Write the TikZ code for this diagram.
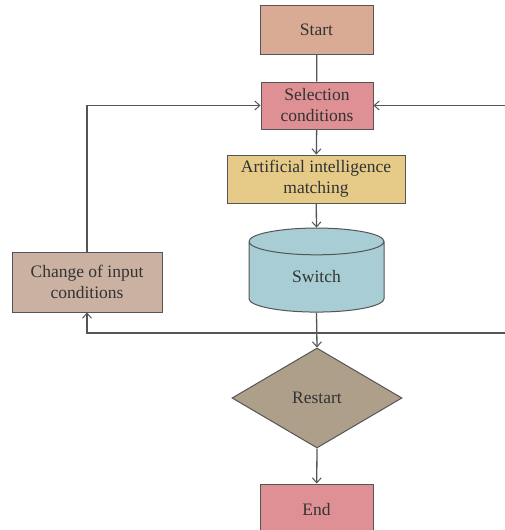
\documentclass[tikz,border=0pt]{standalone}
\usepackage{fontspec}
\setmainfont{Liberation Serif}
\usetikzlibrary{shapes.geometric,arrows.meta}
\definecolor{cstart}{HTML}{D9AB95}
\definecolor{csel}{HTML}{DE9094}
\definecolor{cai}{HTML}{E6CA88}
\definecolor{csw}{HTML}{A8CDD5}
\definecolor{cchg}{HTML}{CBB1A1}
\definecolor{cdia}{HTML}{AE9F8A}
\definecolor{cline}{HTML}{555555}
\definecolor{ctext}{HTML}{333333}
\tikzset{
  box/.style={draw=cline, line width=1pt, rectangle, text=ctext, align=center, inner sep=0pt,
    font=\fontsize{17.5}{21}\selectfont},
  conn/.style={draw=cline, line width=1.3pt},
  arr/.style={conn, -{Straight Barb[length=5pt,width=9pt,line width=1pt]}},
}
\begin{document}
\begin{tikzpicture}[x=1pt,y=1pt]
\useasboundingbox (0,0) rectangle (505,-530);
\node[box, fill=cstart, minimum width=113, minimum height=49] (start) at (316.5,-29.5) {Start};
\node[box, fill=csel, minimum width=112, minimum height=47] (sel) at (317,-105.5) {Selection\\conditions};
\node[box, fill=cai, minimum width=178, minimum height=48] (ai) at (316,-179) {Artificial intelligence\\matching};
\node[box, fill=csw, shape=cylinder, shape border rotate=90, aspect=0.55, minimum width=135, minimum height=84] (sw) at (316.5,-277) {Switch};
\node[box, fill=cchg, minimum width=150, minimum height=60] (chg) at (87,-282) {Change of input\\conditions};
\node[box, fill=cdia, shape=diamond, aspect=1.7, minimum width=170, minimum height=100] (dia) at (317,-398) {Restart};
\node[box, fill=csel, minimum width=113, minimum height=52] (end) at (316.5,-510) {End};
\coordinate (rt) at (505,-105.5);
\coordinate (rb) at (505,-333);
\draw[conn] (start) -- (sel);
\draw[arr] (sel) -- (ai);
\draw[arr] (ai) -- (sw.north);
\draw[arr] (sw.south) -- (dia.north);
\draw[arr] (dia.south) -- (end);
\draw[arr] (chg.north) |- (sel.west);
\draw[arr] (rt) -- (sel.east);
\draw[arr] (rb) -| (chg.south);
\end{tikzpicture}
\end{document}
